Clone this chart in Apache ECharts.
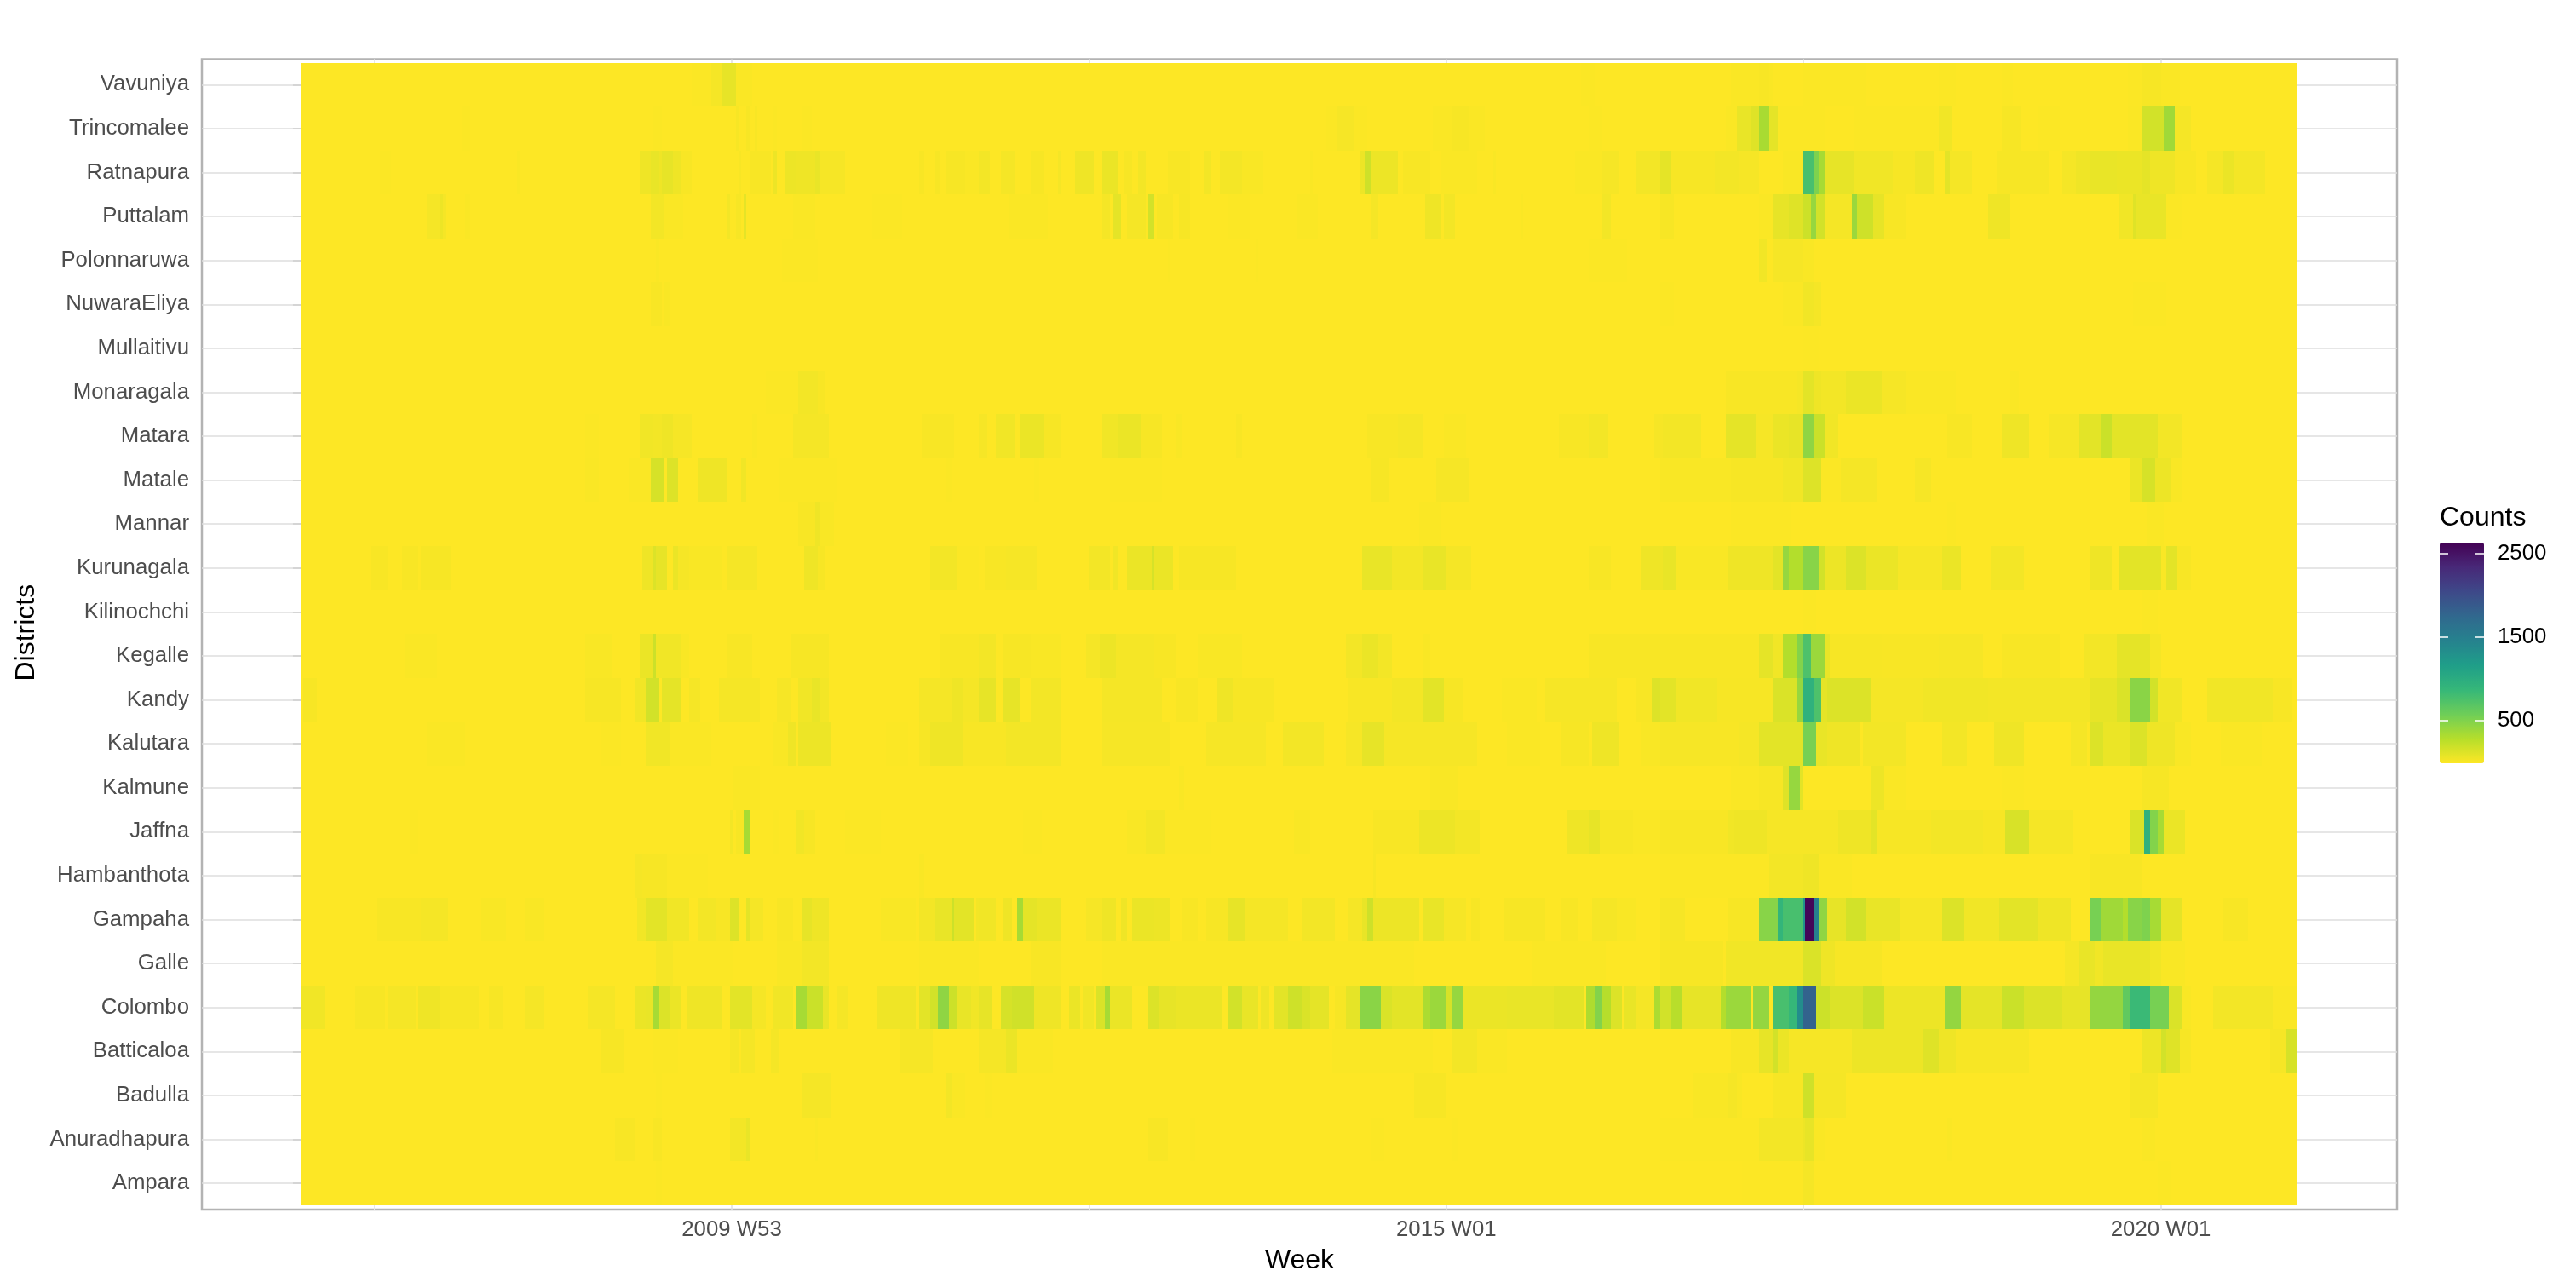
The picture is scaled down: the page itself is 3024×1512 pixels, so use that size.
<!DOCTYPE html>
<html><head><meta charset="utf-8">
<style>html,body{margin:0;padding:0;background:#fff}#c{width:3024px;height:1512px}</style>
<script src="https://cdn.jsdelivr.net/npm/echarts@6/dist/echarts.min.js"></script>
</head><body><div id="c"></div>
<script>
// Week-run readings: [firstWeek, endWeekExclusive, counts]; week 0 = 2007 W01. Later runs overwrite earlier ones.
const Vavuniya=[[143,150,12],[150,154,40],[154,159,110],[159,165,15],[468,473,12],[523,538,15],[533,537,25],[549,572,10],[599,605,12],[622,626,10],[668,673,10],[673,680,30],[680,687,15]];
const Trincomalee=[[59,62,8],[129,132,10],[159,160,30],[163,164,30],[166,167,25],[173,174,10],[183,187,12],[375,390,12],[379,385,35],[414,433,15],[421,427,30],[471,476,8],[521,525,15],[525,530,100],[530,533,150],[533,537,340],[537,540,120],[540,550,12],[550,557,8],[568,599,10],[599,604,60],[622,629,30],[635,643,12],[668,673,15],[673,681,220],[681,685,380],[685,691,40]];
const Ratnapura=[[29,33,10],[79,80,20],[124,143,70],[128,131,100],[132,136,110],[139,143,25],[160,161,25],[164,172,25],[173,174,80],[177,181,80],[181,188,70],[188,190,100],[190,199,35],[226,228,25],[232,234,30],[236,243,30],[243,248,15],[248,252,50],[256,261,40],[267,272,30],[277,278,40],[283,290,70],[293,299,90],[301,304,30],[306,309,50],[317,325,25],[330,333,50],[336,344,45],[344,352,20],[369,370,15],[387,389,80],[389,391,240],[391,401,80],[403,413,25],[417,430,15],[436,437,20],[466,476,15],[476,482,35],[488,497,50],[497,501,120],[501,517,30],[517,526,50],[526,533,35],[542,549,20],[549,553,780],[553,555,520],[555,557,350],[557,568,110],[568,582,60],[582,590,30],[590,597,70],[601,603,130],[603,611,40],[620,639,30],[644,649,40],[649,654,70],[654,664,100],[664,673,90],[673,676,120],[676,685,70],[685,693,25],[697,703,40],[703,707,90],[707,718,45]];
const Puttalam=[[46,53,40],[51,52,80],[60,62,15],[128,133,50],[133,140,15],[156,157,50],[159,161,30],[162,163,120],[180,188,15],[209,220,12],[259,273,15],[293,296,40],[297,300,120],[302,309,40],[310,312,220],[313,319,30],[321,325,30],[339,347,10],[364,372,15],[391,394,40],[411,417,70],[418,422,50],[446,447,15],[476,479,50],[497,502,30],[533,538,15],[538,544,110],[544,549,150],[549,552,250],[552,554,420],[554,557,220],[557,567,40],[567,569,400],[569,575,240],[575,579,110],[579,587,25],[617,625,70],[665,670,60],[670,671,150],[671,682,100],[682,688,10]];
const Polonnaruwa=[[130,131,15],[176,189,12],[317,318,8],[349,350,10],[471,485,8],[533,536,60],[538,549,35],[549,553,20]];
const NuwaraEliya=[[128,132,25],[133,135,20],[497,502,10],[542,549,15],[549,553,60],[553,556,40],[670,682,10]];
const Mullaitivu=[[549,555,6]];
const Monaragala=[[170,182,12],[182,189,50],[189,192,25],[521,547,25],[547,549,40],[549,553,130],[553,556,70],[556,565,50],[565,578,90],[578,587,35],[587,605,15],[625,628,15]];
const Matara=[[104,109,12],[124,129,60],[129,132,50],[132,136,70],[136,143,35],[165,167,15],[180,193,40],[227,239,25],[248,251,35],[254,261,60],[263,272,90],[272,278,30],[293,299,60],[299,307,90],[307,315,30],[320,322,20],[342,344,25],[390,401,25],[401,410,40],[418,426,15],[460,471,25],[471,478,50],[495,498,35],[498,512,50],[521,532,120],[532,538,35],[538,544,90],[544,549,110],[549,553,450],[553,557,260],[557,562,60],[602,611,25],[622,632,70],[639,650,35],[650,658,130],[658,662,260],[662,679,130],[679,688,50]];
const Matale=[[104,109,15],[120,128,15],[128,133,200],[134,138,160],[145,156,70],[161,163,60],[175,196,10],[236,238,10],[268,270,10],[296,315,12],[391,398,30],[415,421,35],[421,427,35],[497,523,18],[523,542,30],[542,549,60],[549,556,160],[556,563,8],[563,576,40],[590,596,35],[669,673,90],[673,678,200],[678,684,80],[684,688,20]];
const Mannar=[[182,188,25],[188,190,70],[190,195,20],[409,417,15],[523,545,12],[602,605,10],[675,681,15]];
const Kurunagala=[[26,32,25],[37,43,25],[44,55,30],[125,129,70],[129,130,170],[130,134,110],[136,138,90],[138,142,35],[142,154,20],[156,167,40],[184,189,70],[189,192,30],[230,240,50],[240,248,10],[250,258,25],[258,269,35],[288,296,50],[297,299,60],[302,311,90],[311,312,200],[312,319,90],[321,342,30],[388,399,100],[399,410,50],[410,419,100],[419,428,40],[471,479,25],[490,498,70],[498,503,100],[503,522,20],[522,538,70],[538,542,130],[542,544,420],[544,549,300],[549,555,480],[555,557,220],[557,565,80],[565,572,170],[572,584,90],[584,600,35],[600,607,90],[618,630,50],[654,662,70],[665,680,130],[680,682,20],[682,686,130],[686,691,25]];
const Kilinochchi=[[549,554,8],[673,679,8]];
const Kegalle=[[38,50,15],[104,114,20],[124,129,90],[129,130,250],[130,139,60],[139,142,20],[156,165,25],[179,193,30],[234,248,25],[248,254,50],[257,267,30],[267,278,20],[287,292,40],[292,298,80],[298,312,40],[312,320,25],[328,344,20],[382,399,50],[388,394,90],[410,413,20],[471,497,25],[497,533,25],[533,538,120],[538,542,60],[542,547,300],[547,549,500],[549,552,750],[552,557,400],[557,559,100],[559,578,30],[578,599,25],[599,615,35],[622,643,25],[652,664,50],[664,676,120],[676,680,40]];
const Kandy=[[1,6,30],[104,117,30],[122,126,60],[126,131,220],[132,139,120],[142,146,40],[153,168,40],[174,179,35],[182,187,60],[187,190,100],[190,193,50],[226,248,40],[238,242,70],[248,254,110],[257,263,110],[267,278,50],[293,315,40],[320,328,25],[335,341,70],[341,356,30],[383,410,25],[399,410,50],[410,418,130],[418,425,30],[439,452,15],[455,481,35],[488,494,25],[494,497,160],[497,503,130],[503,518,60],[518,538,30],[538,547,180],[547,549,420],[549,553,950],[553,556,750],[556,558,120],[558,574,170],[574,593,40],[593,617,60],[617,654,50],[654,664,110],[664,669,180],[669,676,470],[676,679,220],[679,688,60],[697,721,60],[721,728,25]];
const Kalutara=[[46,60,15],[110,117,10],[126,135,60],[135,150,15],[173,178,20],[178,181,70],[182,194,80],[214,222,8],[226,230,30],[230,242,70],[242,248,25],[248,258,25],[258,278,50],[293,318,35],[331,353,35],[359,374,50],[382,388,35],[388,396,110],[396,410,35],[410,430,35],[441,453,15],[461,471,30],[472,482,70],[490,497,20],[497,515,35],[515,526,25],[526,533,40],[533,549,130],[549,554,550],[554,558,100],[558,570,70],[571,587,50],[600,609,50],[619,630,70],[647,653,40],[654,659,170],[659,669,90],[669,675,170],[675,685,70],[685,691,20],[702,717,15]];
const Kalmune=[[158,168,15],[321,323,20],[413,423,20],[523,533,15],[533,542,30],[542,544,150],[544,548,420],[548,549,130],[574,579,80],[579,587,15],[622,630,12],[673,683,30]];
const Jaffna=[[40,43,8],[157,158,50],[159,162,30],[162,164,350],[173,175,12],[181,184,60],[184,188,30],[199,212,10],[264,271,8],[302,309,20],[309,316,50],[316,333,12],[363,369,20],[392,409,25],[409,422,80],[422,431,50],[463,471,70],[471,475,110],[475,487,30],[487,497,15],[497,522,25],[522,524,60],[524,536,70],[536,562,35],[562,574,70],[574,576,130],[576,596,30],[596,615,50],[615,623,30],[623,632,190],[632,648,40],[669,674,180],[674,676,950],[676,679,500],[679,681,350],[681,689,90]];
const Hambanthota=[[122,125,40],[125,134,30],[134,149,12],[226,228,20],[392,393,30],[497,537,8],[537,549,50],[549,555,70],[555,567,15],[654,673,25]];
const Gampaha=[[28,44,25],[44,54,40],[66,75,20],[82,89,20],[123,126,60],[126,134,130],[134,142,60],[145,152,50],[152,157,25],[157,160,160],[163,164,130],[164,169,40],[174,180,25],[183,187,110],[187,193,70],[212,225,20],[226,232,50],[232,238,100],[238,239,250],[239,246,130],[247,248,50],[248,254,60],[257,260,70],[262,264,350],[264,269,120],[269,278,90],[287,293,35],[293,298,70],[300,302,70],[304,312,90],[312,318,80],[322,328,25],[331,339,30],[339,345,110],[345,361,40],[366,378,50],[383,388,40],[388,390,100],[390,392,240],[392,399,80],[399,409,80],[410,418,100],[418,426,35],[428,431,30],[440,455,30],[461,467,25],[472,481,40],[481,488,20],[497,506,35],[522,533,30],[533,540,480],[540,542,900],[542,549,780],[549,550,1300],[550,553,2600],[553,555,1500],[555,558,450],[558,565,110],[565,572,220],[572,585,100],[585,600,35],[600,608,170],[608,621,60],[621,635,130],[635,647,70],[654,658,550],[658,666,380],[666,668,300],[668,673,480],[673,676,520],[676,680,350],[680,688,120],[703,712,25]];
const Galle=[[130,136,40],[136,158,12],[174,183,20],[183,193,50],[226,248,15],[267,278,25],[293,407,15],[450,477,15],[497,520,30],[521,549,60],[549,556,180],[556,561,70],[561,578,30],[645,650,40],[650,656,100],[656,659,60],[659,676,100],[676,680,60],[680,689,20]];
const Colombo=[[0,9,60],[20,31,30],[32,42,40],[43,51,70],[51,65,30],[69,74,30],[82,89,40],[105,115,40],[122,126,90],[126,129,100],[129,131,350],[131,135,170],[135,139,90],[141,149,70],[149,154,70],[157,165,130],[165,170,40],[173,180,60],[181,185,350],[185,191,260],[191,193,100],[196,200,40],[211,225,70],[226,230,130],[230,233,220],[233,237,450],[237,240,250],[240,245,100],[245,248,60],[248,253,110],[256,260,200],[260,268,230],[268,278,70],[281,285,90],[286,290,60],[291,294,180],[294,296,350],[296,304,90],[310,314,170],[314,320,110],[320,337,90],[339,344,220],[344,350,100],[351,354,70],[356,361,130],[361,366,240],[366,369,180],[369,376,120],[378,382,30],[382,387,120],[387,395,470],[395,399,180],[399,410,130],[410,413,330],[413,419,400],[419,421,200],[421,425,420],[425,441,90],[441,458,100],[458,469,130],[470,473,320],[473,476,500],[476,479,290],[479,483,170],[484,488,100],[488,495,40],[495,497,330],[497,501,220],[501,505,280],[505,519,110],[519,521,300],[521,530,400],[531,537,430],[538,544,780],[544,547,880],[547,549,1350],[549,554,1800],[554,559,250],[559,571,170],[571,579,260],[579,601,80],[601,607,430],[607,622,120],[622,630,260],[630,644,170],[644,654,110],[654,666,430],[666,669,650],[669,676,850],[676,683,550],[683,688,180],[688,691,20],[699,721,50],[721,730,15]];
const Batticaloa=[[110,118,30],[129,138,12],[157,160,40],[161,166,40],[172,175,40],[219,231,35],[248,258,40],[258,262,90],[262,275,15],[377,414,15],[421,430,50],[430,441,15],[523,533,25],[533,538,110],[538,540,220],[540,544,90],[544,567,35],[567,593,80],[593,599,150],[599,605,70],[605,632,30],[673,680,80],[680,682,220],[682,687,150],[687,691,30],[720,726,35],[726,730,200]];
const Badulla=[[183,190,40],[190,194,35],[130,132,8],[236,238,50],[238,243,15],[250,253,8],[407,419,30],[509,527,20],[522,525,40],[538,549,30],[549,553,240],[553,565,40],[669,679,40]];
const Anuradhapura=[[115,122,25],[129,132,25],[157,164,50],[163,164,100],[188,189,15],[310,317,25],[325,327,10],[391,396,8],[421,423,10],[497,533,10],[533,549,50],[549,550,80],[550,553,110],[553,557,15],[602,604,15],[673,678,15]];
const Ampara=[[130,132,10],[527,549,6],[549,553,40],[679,684,12]];

const districtLabels=['Ampara','Anuradhapura','Badulla','Batticaloa','Colombo','Galle','Gampaha','Hambanthota','Jaffna','Kalmune','Kalutara','Kandy','Kegalle','Kilinochchi','Kurunagala','Mannar','Matale','Matara','Monaragala','Mullaitivu','NuwaraEliya','Polonnaruwa','Puttalam','Ratnapura','Trincomalee','Vavuniya'];
const districtRuns=[Ampara,Anuradhapura,Badulla,Batticaloa,Colombo,Galle,Gampaha,Hambanthota,Jaffna,Kalmune,Kalutara,Kandy,Kegalle,Kilinochchi,Kurunagala,Mannar,Matale,Matara,Monaragala,Mullaitivu,NuwaraEliya,Polonnaruwa,Puttalam,Ratnapura,Trincomalee,Vavuniya];
const weekCount=730;
const majorWeeks=[157.6,418.8,680];
const majorLabels=['2009 W53','2015 W01','2020 W01'];
const minorWeeks=[27,288.2,549.4];
const legendTicks=[500,1500,2500];
const viridis=['#FDE725','#B5DE2B','#6ECE58','#35B779','#1F9E89','#26828E','#31688E','#3E4989','#482878','#440154'];
// My first colour readings of the pale bands came out slightly strong; this corrects that reading.
const paleReading=v=>v<=260?v*0.8:v;

const cells=[];
districtRuns.forEach((runs,row)=>{
  const wk=new Array(weekCount).fill(0);
  runs.forEach(r=>{for(let w=r[0];w<r[1]&&w<weekCount;w++)wk[w]=paleReading(r[2]);});
  wk.forEach((v,w)=>cells.push([w,row,v]));
});

const chart=echarts.init(document.getElementById('c'),null,{renderer:'canvas'});
const FONT='"Liberation Sans",Arial,sans-serif';
chart.setOption({
  animation:false,backgroundColor:'#fff',textStyle:{fontFamily:FONT},
  grid:[
    {left:237,top:69.4,width:2577,height:1350.6,show:true,borderColor:'#b3b3b3',borderWidth:2.5,backgroundColor:'#fff',containLabel:false},
    {left:2864,top:637,width:52,height:259,show:false,containLabel:false}
  ],
  xAxis:[
    {type:'value',gridIndex:0,min:-36.1,max:766.4,
     axisLine:{show:false},
     axisTick:{show:true,length:8,lineStyle:{color:'#b3b3b3',width:1.5},customValues:majorWeeks},
     axisLabel:{customValues:majorWeeks,margin:11,fontSize:25.8,color:'#4d4d4d',fontFamily:FONT,
       formatter:v=>majorLabels[majorWeeks.indexOf(v)]},
     splitLine:{show:true,lineStyle:{color:'#dedede',width:1.5}},
     name:'Week',nameLocation:'middle',nameGap:44,nameTextStyle:{fontSize:32,color:'#000',fontFamily:FONT}},
    {type:'value',gridIndex:0,min:-36.1,max:766.4,
     axisLine:{show:false},
     axisTick:{show:false,customValues:minorWeeks},
     axisLabel:{show:false,customValues:minorWeeks},
     splitLine:{show:true,lineStyle:{color:'#e6e6e6',width:1}}},
    {type:'value',gridIndex:1,min:0,max:1,show:false}
  ],
  yAxis:[
    {type:'value',gridIndex:0,min:-0.6,max:25.58,
     axisLine:{show:false},
     axisTick:{show:true,length:9,lineStyle:{color:'#d0d0d0',width:1.5},customValues:districtLabels.map((_,i)=>i)},
     axisLabel:{customValues:districtLabels.map((_,i)=>i),margin:15,fontSize:25.8,color:'#4d4d4d',fontFamily:FONT,padding:[8,0,0,0],
       formatter:v=>districtLabels[v]},
     splitLine:{show:true,lineStyle:{color:'#dedede',width:1.5}},
     name:'Districts',nameLocation:'middle',nameRotate:90,nameGap:190,nameTextStyle:{fontSize:32,color:'#000',fontFamily:FONT,padding:[0,0,0,4]}},
    {type:'value',gridIndex:1,position:'left',min:-10,max:2633,z:10,
     axisLine:{show:false},
     axisTick:{show:true,inside:true,length:10,lineStyle:{color:'#fff',width:1.5},customValues:legendTicks},
     axisLabel:{show:false,customValues:legendTicks},splitLine:{show:false},
     name:'Counts',nameLocation:'end',nameGap:13,nameTextStyle:{fontSize:32,color:'#000',align:'left',fontFamily:FONT}},
    {type:'value',gridIndex:1,position:'right',min:-10,max:2633,z:10,
     axisLine:{show:false},
     axisTick:{show:true,inside:true,length:10,lineStyle:{color:'#fff',width:1.5},customValues:legendTicks},
     axisLabel:{customValues:legendTicks,margin:16,fontSize:25.8,color:'#000',fontFamily:FONT,padding:[8,0,0,0],formatter:v=>String(v)},splitLine:{show:false}}
  ],
  visualMap:{type:'continuous',seriesIndex:0,dimension:2,min:0,max:2633,calculable:false,
    orient:'vertical',left:2864,top:637,itemWidth:52,itemHeight:259,padding:0,showLabel:false,text:null,
    inRange:{color:viridis}},
  series:[{type:'custom',coordinateSystem:'cartesian2d',xAxisIndex:0,yAxisIndex:0,
    progressive:0,silent:true,z:2,encode:{x:0,y:1},data:cells,
    renderItem:(params,api)=>{
      const a=api.coord([api.value(0),api.value(1)+0.5]);
      const b=api.coord([api.value(0)+1,api.value(1)-0.5]);
      const x=Math.round(a[0]),y=Math.round(a[1]);
      return {type:'rect',shape:{x:x,y:y,width:Math.round(b[0])-x,height:Math.round(b[1])-y},style:{fill:api.visual('color')}};
    }}]
});
</script></body></html>
